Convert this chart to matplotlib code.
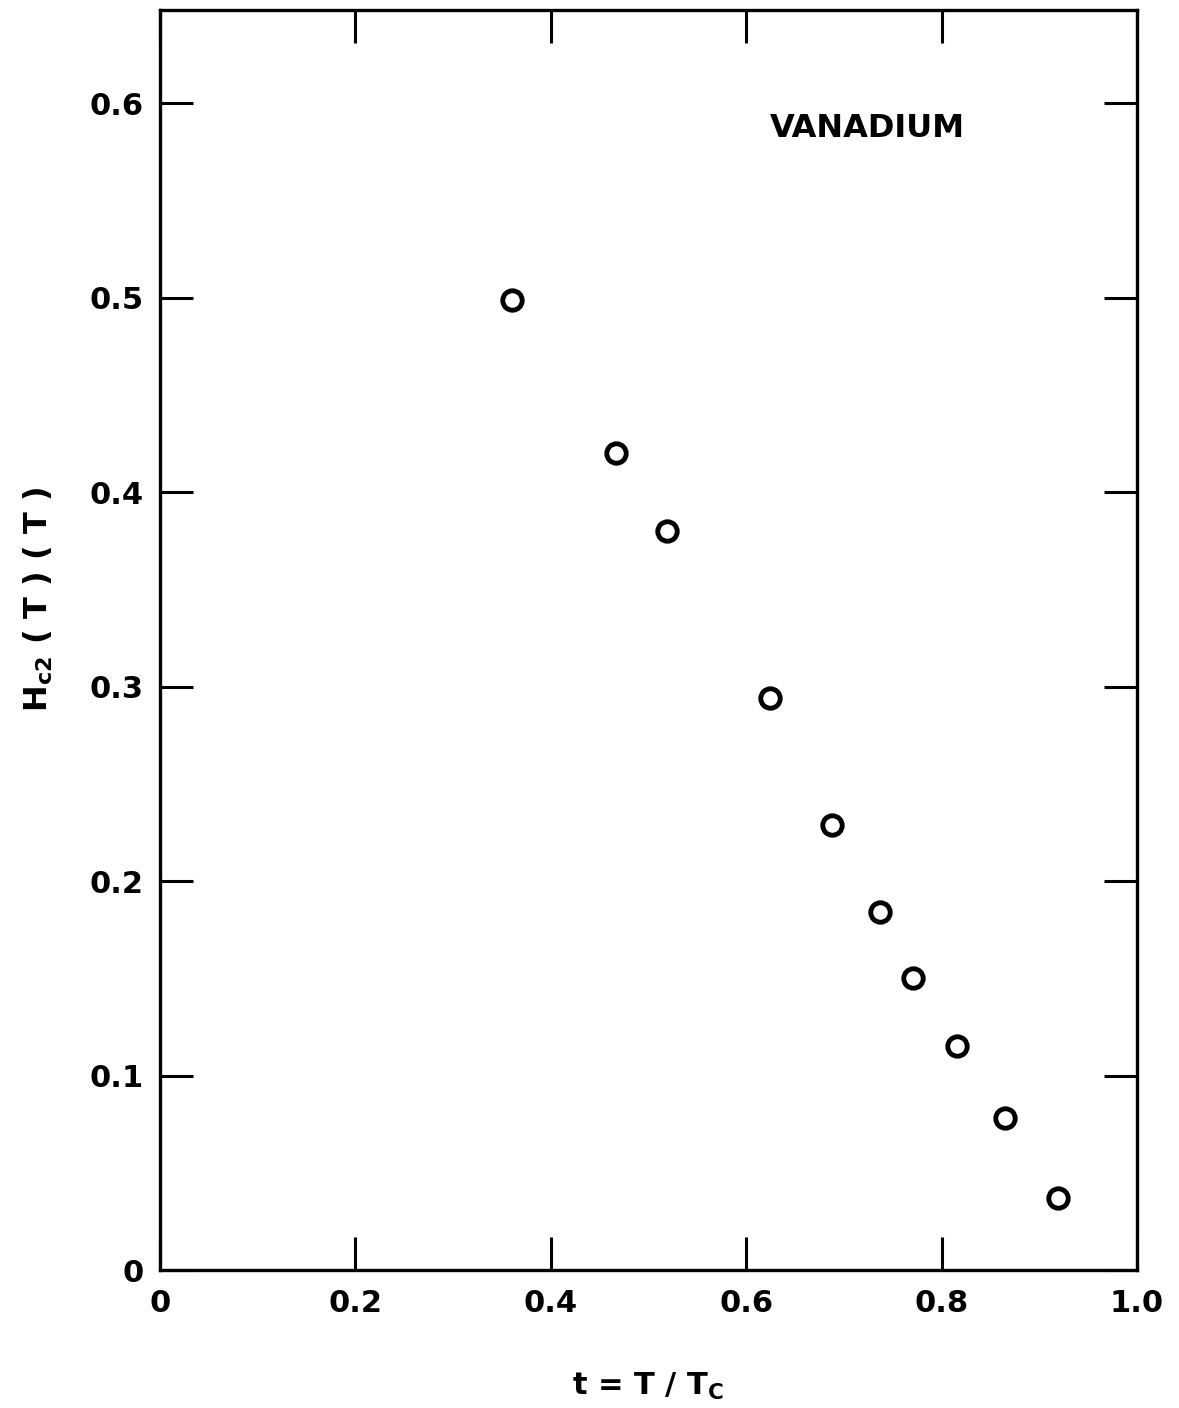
import matplotlib
matplotlib.use("Agg")
import matplotlib.pyplot as plt

t_values = [0.360, 0.467, 0.519, 0.624, 0.688, 0.737, 0.771, 0.816, 0.865, 0.919]
hc2_values = [0.499, 0.420, 0.380, 0.294, 0.229, 0.184, 0.150, 0.115, 0.078, 0.037]
x_ticks = [0, 0.2, 0.4, 0.6, 0.8, 1.0]
x_tick_labels = ["0", "0.2", "0.4", "0.6", "0.8", "1.0"]
y_ticks = [0, 0.1, 0.2, 0.3, 0.4, 0.5, 0.6]
y_tick_labels = ["0", "0.1", "0.2", "0.3", "0.4", "0.5", "0.6"]

plt.rcParams['font.family'] = ['DejaVu Sans']
plt.rcParams['mathtext.default'] = 'bf'

fig = plt.figure(figsize=(11.79, 14.08), dpi=100)
ax = fig.add_axes([160/1179, 138/1408, (1137-160)/1179, (1270-10)/1408])

ax.plot(t_values, hc2_values, linestyle='none', marker='o', markersize=14,
        markerfacecolor='white', markeredgecolor='black', markeredgewidth=3.5)

ax.set_xlim(0, 1.0)
ax.set_ylim(0, 0.648)
ax.set_xticks(x_ticks)
ax.set_xticklabels(x_tick_labels, fontsize=22, fontweight='bold')
ax.set_yticks(y_ticks)
ax.set_yticklabels(y_tick_labels, fontsize=22, fontweight='bold')
ax.tick_params(axis='x', pad=14)
ax.tick_params(axis='y', pad=12)
ax.tick_params(direction='in', length=24, width=2.2, top=True, right=True)
for s in ax.spines.values():
    s.set_linewidth(2.4)

ax.text(0.624, 0.587, "VANADIUM", fontsize=23, fontweight='bold', ha='left', va='center')

ax.set_xlabel(r"t = T / T$_{\mathbf{C}}$", fontsize=22, fontweight='bold', labelpad=38)
ax.set_ylabel(r"H$_{\mathbf{c2}}$ ( T ) ( T )", fontsize=23, fontweight='bold')
ax.yaxis.set_label_coords(-0.107, 0.532)

fig.savefig("out.png", dpi=100, facecolor='white')
